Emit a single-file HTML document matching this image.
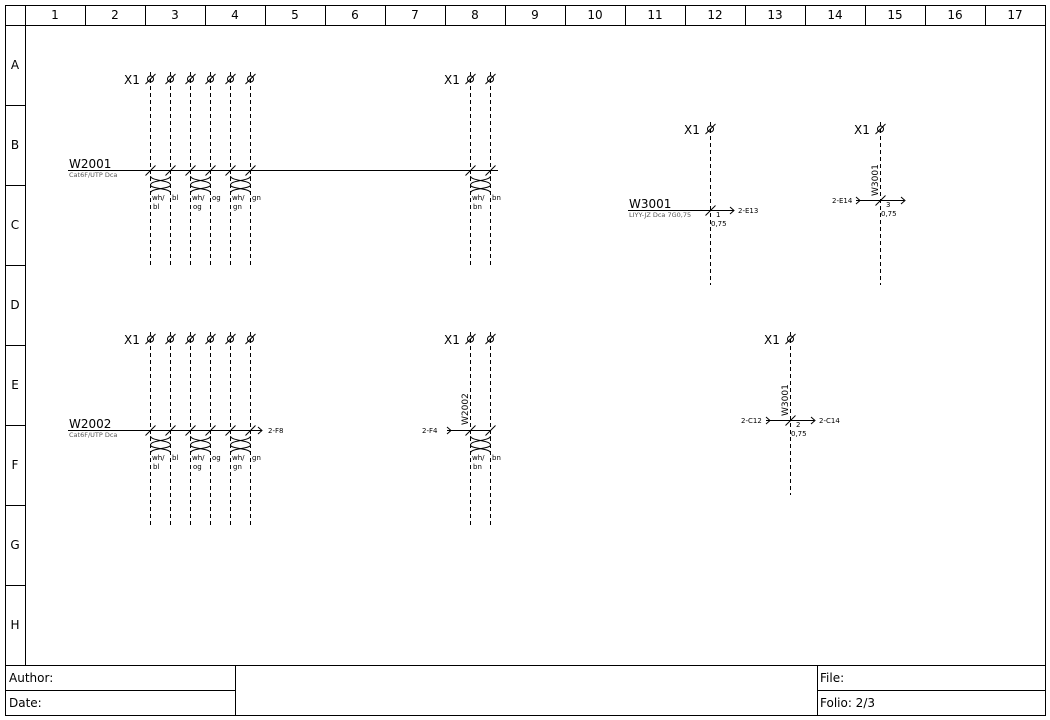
<!DOCTYPE html>
<html><head><meta charset="utf-8"><style>
html,body{margin:0;padding:0;background:#fff}
svg{display:block}
text{font-family:"DejaVu Sans","Liberation Sans",sans-serif;fill:#000}
.s{font-size:7px}
.g{font-size:6.5px;fill:#555}
.m{font-size:12px}
</style></head><body>
<svg width="1050" height="720" viewBox="0 0 1050 720" xmlns="http://www.w3.org/2000/svg">
<defs>
<g id="term" stroke="#000" fill="none" stroke-width="1"><circle r="3"/><line x1="-5" y1="5" x2="5" y2="-5"/></g>
<line id="sl" x1="-5" y1="5" x2="5" y2="-5" stroke="#000"/>
<g id="tw" stroke="#000" fill="none" stroke-width="1"><path d="M0,0 C0,5 20,4 20,9 C20,13 0,12 0,17"/><path d="M20,0 C20,5 0,4 0,9 C0,13 20,12 20,17"/></g>
<path id="chev" d="M-4,-3.5 L0,0 L-4,3.5" stroke="#000" fill="none"/>
</defs>
<g stroke="#000" fill="none" stroke-width="1">
<rect x="5.5" y="5.5" width="1040" height="710"/>
<line x1="5" y1="25.5" x2="1045" y2="25.5"/>
<line x1="25.5" y1="5" x2="25.5" y2="665"/>
<line x1="85.5" y1="5" x2="85.5" y2="25"/><line x1="145.5" y1="5" x2="145.5" y2="25"/><line x1="205.5" y1="5" x2="205.5" y2="25"/><line x1="265.5" y1="5" x2="265.5" y2="25"/><line x1="325.5" y1="5" x2="325.5" y2="25"/><line x1="385.5" y1="5" x2="385.5" y2="25"/><line x1="445.5" y1="5" x2="445.5" y2="25"/><line x1="505.5" y1="5" x2="505.5" y2="25"/><line x1="565.5" y1="5" x2="565.5" y2="25"/><line x1="625.5" y1="5" x2="625.5" y2="25"/><line x1="685.5" y1="5" x2="685.5" y2="25"/><line x1="745.5" y1="5" x2="745.5" y2="25"/><line x1="805.5" y1="5" x2="805.5" y2="25"/><line x1="865.5" y1="5" x2="865.5" y2="25"/><line x1="925.5" y1="5" x2="925.5" y2="25"/><line x1="985.5" y1="5" x2="985.5" y2="25"/>
<line x1="5" y1="105.5" x2="25" y2="105.5"/><line x1="5" y1="185.5" x2="25" y2="185.5"/><line x1="5" y1="265.5" x2="25" y2="265.5"/><line x1="5" y1="345.5" x2="25" y2="345.5"/><line x1="5" y1="425.5" x2="25" y2="425.5"/><line x1="5" y1="505.5" x2="25" y2="505.5"/><line x1="5" y1="585.5" x2="25" y2="585.5"/>
<line x1="5" y1="665.5" x2="1045" y2="665.5"/>
<line x1="5" y1="690.5" x2="235" y2="690.5"/><line x1="817" y1="690.5" x2="1045" y2="690.5"/>
<line x1="235.5" y1="665" x2="235.5" y2="715"/><line x1="817.5" y1="665" x2="817.5" y2="715"/>
</g>
<g font-size="12" text-anchor="middle">
<text x="55" y="19" class="m">1</text><text x="115" y="19" class="m">2</text><text x="175" y="19" class="m">3</text><text x="235" y="19" class="m">4</text><text x="295" y="19" class="m">5</text><text x="355" y="19" class="m">6</text><text x="415" y="19" class="m">7</text><text x="475" y="19" class="m">8</text><text x="535" y="19" class="m">9</text><text x="595" y="19" class="m">10</text><text x="655" y="19" class="m">11</text><text x="715" y="19" class="m">12</text><text x="775" y="19" class="m">13</text><text x="835" y="19" class="m">14</text><text x="895" y="19" class="m">15</text><text x="955" y="19" class="m">16</text><text x="1015" y="19" class="m">17</text>
<text x="15" y="69" class="m">A</text><text x="15" y="149" class="m">B</text><text x="15" y="229" class="m">C</text><text x="15" y="309" class="m">D</text><text x="15" y="389" class="m">E</text><text x="15" y="469" class="m">F</text><text x="15" y="549" class="m">G</text><text x="15" y="629" class="m">H</text>
</g>
<text x="9" y="682" class="m">Author:</text><text x="9" y="707" class="m">Date:</text>
<text x="820" y="682" class="m">File:</text><text x="820" y="707" class="m">Folio: 2/3</text>

<g stroke="#000" stroke-dasharray="4,3">
<line x1="150.5" y1="72" x2="150.5" y2="265"/><line x1="170.5" y1="72" x2="170.5" y2="265"/><line x1="190.5" y1="72" x2="190.5" y2="265"/><line x1="210.5" y1="72" x2="210.5" y2="265"/><line x1="230.5" y1="72" x2="230.5" y2="265"/><line x1="250.5" y1="72" x2="250.5" y2="265"/>
<line x1="470.5" y1="72" x2="470.5" y2="265"/><line x1="490.5" y1="72" x2="490.5" y2="265"/>
<line x1="150.5" y1="332" x2="150.5" y2="525"/><line x1="170.5" y1="332" x2="170.5" y2="525"/><line x1="190.5" y1="332" x2="190.5" y2="525"/><line x1="210.5" y1="332" x2="210.5" y2="525"/><line x1="230.5" y1="332" x2="230.5" y2="525"/><line x1="250.5" y1="332" x2="250.5" y2="525"/>
<line x1="470.5" y1="332" x2="470.5" y2="525"/><line x1="490.5" y1="332" x2="490.5" y2="525"/>
<line x1="710.5" y1="122" x2="710.5" y2="285"/><line x1="880.5" y1="122" x2="880.5" y2="285"/><line x1="790.5" y1="332" x2="790.5" y2="495"/>
</g>
<use href="#term" x="150.5" y="79"/><use href="#term" x="170.5" y="79"/><use href="#term" x="190.5" y="79"/><use href="#term" x="210.5" y="79"/><use href="#term" x="230.5" y="79"/><use href="#term" x="250.5" y="79"/>
<use href="#term" x="470.5" y="79"/><use href="#term" x="490.5" y="79"/>
<use href="#term" x="150.5" y="339"/><use href="#term" x="170.5" y="339"/><use href="#term" x="190.5" y="339"/><use href="#term" x="210.5" y="339"/><use href="#term" x="230.5" y="339"/><use href="#term" x="250.5" y="339"/>
<use href="#term" x="470.5" y="339"/><use href="#term" x="490.5" y="339"/>
<use href="#term" x="710.5" y="129"/><use href="#term" x="880.5" y="129"/><use href="#term" x="790.5" y="339"/>
<text x="124" y="84" class="m">X1</text><text x="444" y="84" class="m">X1</text>
<text x="124" y="344" class="m">X1</text><text x="444" y="344" class="m">X1</text>
<text x="684" y="134" class="m">X1</text><text x="854" y="134" class="m">X1</text><text x="764" y="344" class="m">X1</text>

<line x1="68" y1="170.5" x2="498" y2="170.5" stroke="#000"/>
<text x="69" y="168" class="m">W2001</text><text x="69" y="177" class="g">Cat6F/UTP Dca</text>
<use href="#sl" x="150.5" y="170.5"/><use href="#sl" x="170.5" y="170.5"/><use href="#sl" x="190.5" y="170.5"/><use href="#sl" x="210.5" y="170.5"/><use href="#sl" x="230.5" y="170.5"/><use href="#sl" x="250.5" y="170.5"/><use href="#sl" x="470.5" y="170.5"/><use href="#sl" x="490.5" y="170.5"/>
<use href="#tw" x="150.5" y="176"/><use href="#tw" x="190.5" y="176"/><use href="#tw" x="230.5" y="176"/><use href="#tw" x="470.5" y="176"/>
<text x="152" y="200" class="s">wh/</text><text x="153" y="209" class="s">bl</text><text x="172" y="200" class="s">bl</text>
<text x="192" y="200" class="s">wh/</text><text x="193" y="209" class="s">og</text><text x="212" y="200" class="s">og</text>
<text x="232" y="200" class="s">wh/</text><text x="233" y="209" class="s">gn</text><text x="252" y="200" class="s">gn</text>
<text x="472" y="200" class="s">wh/</text><text x="473" y="209" class="s">bn</text><text x="492" y="200" class="s">bn</text>

<line x1="68" y1="430.5" x2="262" y2="430.5" stroke="#000"/><use href="#chev" x="262" y="430.5"/>
<text x="268" y="433" class="s">2-F8</text>
<text x="69" y="428" class="m">W2002</text><text x="69" y="437" class="g">Cat6F/UTP Dca</text>
<use href="#sl" x="150.5" y="430.5"/><use href="#sl" x="170.5" y="430.5"/><use href="#sl" x="190.5" y="430.5"/><use href="#sl" x="210.5" y="430.5"/><use href="#sl" x="230.5" y="430.5"/><use href="#sl" x="250.5" y="430.5"/><use href="#sl" x="470.5" y="430.5"/><use href="#sl" x="490.5" y="430.5"/>
<use href="#tw" x="150.5" y="436"/><use href="#tw" x="190.5" y="436"/><use href="#tw" x="230.5" y="436"/><use href="#tw" x="470.5" y="436"/>
<text x="152" y="460" class="s">wh/</text><text x="153" y="469" class="s">bl</text><text x="172" y="460" class="s">bl</text>
<text x="192" y="460" class="s">wh/</text><text x="193" y="469" class="s">og</text><text x="212" y="460" class="s">og</text>
<text x="232" y="460" class="s">wh/</text><text x="233" y="469" class="s">gn</text><text x="252" y="460" class="s">gn</text>
<text x="472" y="460" class="s">wh/</text><text x="473" y="469" class="s">bn</text><text x="492" y="460" class="s">bn</text>
<line x1="447" y1="430.5" x2="490" y2="430.5" stroke="#000"/><use href="#chev" x="451" y="430.5"/>
<text x="422" y="433" class="s">2-F4</text>
<text transform="translate(468,425) rotate(-90)" style="font-size:9px">W2002</text>

<line x1="628" y1="210.5" x2="734" y2="210.5" stroke="#000"/><use href="#chev" x="734" y="210.5"/><use href="#sl" x="710.5" y="210.5"/>
<text x="629" y="208" class="m">W3001</text><text x="629" y="217" class="g">LIYY-JZ Dca 7G0,75</text>
<text x="738" y="213" class="s">2-E13</text><text x="716" y="217" class="s">1</text><text x="711" y="226" class="s">0,75</text>

<line x1="856" y1="200.5" x2="904" y2="200.5" stroke="#000"/><use href="#chev" x="860" y="200.5"/><use href="#chev" x="905" y="200.5"/><use href="#sl" x="880.5" y="200.5"/>
<text x="832" y="203" class="s">2-E14</text><text x="886" y="207" class="s">3</text><text x="881" y="216" class="s">0,75</text>
<text transform="translate(878,196) rotate(-90)" style="font-size:9px">W3001</text>

<line x1="766" y1="420.5" x2="814" y2="420.5" stroke="#000"/><use href="#chev" x="770" y="420.5"/><use href="#chev" x="815" y="420.5"/><use href="#sl" x="790.5" y="420.5"/>
<text x="741" y="423" class="s">2-C12</text><text x="819" y="423" class="s">2-C14</text><text x="796" y="427" class="s">2</text><text x="791" y="436" class="s">0,75</text>
<text transform="translate(788,416) rotate(-90)" style="font-size:9px">W3001</text>
</svg>
</body></html>
